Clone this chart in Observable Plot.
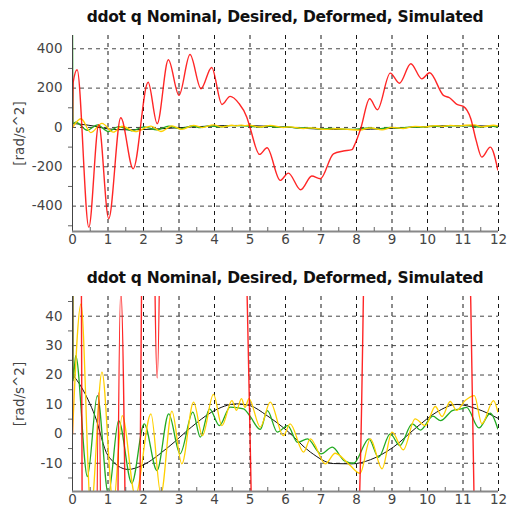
<!DOCTYPE html>
<html><head><meta charset="utf-8">
<script src="https://cdn.jsdelivr.net/npm/d3@7"></script>
<script src="https://cdn.jsdelivr.net/npm/@observablehq/plot@0.6"></script>
<style>
body{margin:0;background:#fff;}
#wrap{position:relative;width:508px;height:516px;font-family:"DejaVu Sans",sans-serif;background:#fff;overflow:hidden;}
.ttl{position:absolute;left:72px;width:426px;text-align:center;font-size:15.5px;font-weight:bold;line-height:15px;color:#111;white-space:nowrap;}
.panel{position:absolute;left:0;}
</style></head><body>
<div id="wrap">
  <div class="panel" id="p1" style="top:0px"></div>
  <div class="panel" id="p2" style="top:258px"></div>
  <div class="ttl" id="t1" style="top:10px"></div>
  <div class="ttl" id="t2" style="top:271px"></div>
</div>
<script>
const titleText = "ddot q Nominal, Desired, Deformed, Simulated";
const yLabel = "[rad/s^2]";

const xMajor = [0,1,2,3,4,5,6,7,8,9,10,11,12];
const xMinor = [0.5,1.5,2.5,3.5,4.5,5.5,6.5,7.5,8.5,9.5,10.5,11.5];
const topMajor = [-400,-200,0,200,400];
const topMinor = [-500,-300,-100,100,300];
const botMajor = [-10,0,10,20,30,40];
const botMinor = [-15,-5,5,15,25,35,45];

// Simulated (red)
const simT = [0,0.02,0.13,0.46,0.74,1.02,1.36,1.71,2.13,2.385,2.70,3.00,3.31,3.62,3.92,4.21,4.44,4.68,4.91,5.0,5.27,5.48,5.85,6.08,6.43,6.74,6.98,7.35,7.63,7.87,7.96,8.12,8.37,8.59,8.95,9.21,9.53,9.84,10.06,10.45,10.62,10.83,11.01,11.22,11.37,11.53,11.77,11.98];
const simV = [0,230,293,-507,14,-464,49,-210,230,19,344,163,371,197,305,117,158,124,52,0,-137,-103,-269,-232,-317,-247,-261,-134,-120,-113,-83,-5,146,90,276,225,324,247,278,163,151,117,107,44,-66,-151,-100,-215];

// Nominal (black)
const nomT = [0,0.25,0.63,1.0,1.57,1.95,2.7,3.35,3.92,4.63,5.0,5.48,6.04,6.7,7.35,7.87,8.39,9.04,9.7,10.26,10.83,11.39,12];
const nomV = [20.2,15.9,6.2,-7.4,-12.1,-10.8,-4.5,2.3,7.4,10.2,9.6,6.2,1.1,-6.2,-10.1,-10.2,-8.8,-4.5,2.3,7.4,10.0,8.5,5.2];

// Desired (green)
const desT = [0,0.015,0.09,0.42,0.70,1.01,1.30,1.67,2.02,2.38,2.71,3.03,3.39,3.60,3.86,4.14,4.44,4.82,5.0,5.29,5.49,5.77,6.06,6.34,6.62,7.0,7.32,7.65,7.92,8.35,8.62,8.95,9.22,9.57,9.8,10.15,10.37,10.7,10.95,11.1,11.45,11.77,11.98];
const desV = [600,18,26.6,-14.5,13,-20.5,4.5,-16.8,3.4,-12.5,6.8,-6.8,7.4,-1.1,8.5,2.8,9.1,8.5,6,1.5,7.9,0.6,2.8,-2.9,-1.7,-6.8,-4.5,-9.1,-10,-1.7,-8,0,-4,3.4,1.3,6,4.5,7.9,8.5,9,2,7,1.7];

// Deformed (yellow)
const defT = [0,0.24,0.52,0.83,1.15,1.40,1.77,2.21,2.49,2.80,3.08,3.41,3.66,3.97,4.21,4.49,4.62,4.76,4.86,4.97,5.29,5.57,5.94,6.13,6.51,6.70,7.12,7.40,7.80,8.10,8.39,8.72,9.0,9.32,9.65,9.94,10.22,10.41,10.64,10.82,11.06,11.32,11.53,11.86,11.98];
const defV = [0,44.2,-26,21,-24,6.2,-21,6.8,-20.5,7.7,-10.2,10.8,-0.6,13.4,2.8,11.3,8,12,9,12,2.3,10.8,-0.6,3.4,-6.2,-1.7,-10.2,-6.6,-10.5,-13.4,-1.7,-11.9,0.6,-5.4,5.1,2.8,9.3,5.9,11,8,11.3,13,3.4,11.3,7.5];

const toRows = (T, V) => T.map((t, i) => ({t, v: V[i]}));
const sim = toRows(simT, simV), nom = toRows(nomT, nomV), des = toRows(desT, desV), dfm = toRows(defT, defV);

function panel(yDomain, yMajor, yMinor, marginTop, marginBottom) {
  const L = (data, stroke, w, op=1) => Plot.line(data, {x: "t", y: "v", stroke, strokeWidth: w, strokeOpacity: op, curve: "monotone-x", clip: true});
  return Plot.plot({
    width: 508, height: 258,
    marginLeft: 72, marginRight: 10, marginTop, marginBottom,
    style: {fontFamily: "'DejaVu Sans', sans-serif", fontSize: "13.5px", color: "#444", background: "transparent", overflow: "visible"},
    x: {domain: [0, 12], label: null},
    y: {domain: yDomain, label: null},
    marks: [
      Plot.gridX(xMajor, {stroke: "#000", strokeOpacity: 0.9, strokeDasharray: "4,4"}),
      Plot.gridY(yMajor, {stroke: "#333", strokeOpacity: 0.9, strokeDasharray: "4,4"}),
      L(nom, "#111", 1),
      L(des, "#22aa22", 1.3),
      L(dfm, "#ffd000", 1.3),
      L(sim, "#ff0000", 1.4, 0.85),
      Plot.ruleX([0], {stroke: "#444", strokeWidth: 1}),
      Plot.ruleY([yDomain[0]], {stroke: "#888", strokeWidth: 2}),
      Plot.axisX(xMinor, {tickSize: 4, dy: -4, text: null, stroke: "#666", label: null}),
      Plot.axisX(xMajor, {tickSize: 0, tickPadding: 3, tickFormat: d => String(d), label: null}),
      Plot.axisY(yMinor, {tickSize: 4, text: null, stroke: "#666", label: null}),
      Plot.axisY(yMajor, {tickSize: 0, tickPadding: 10, tickFormat: d => String(d), label: yLabel, labelAnchor: "center", labelOffset: 58, labelArrow: "none"})
    ]
  });
}

// fit the title to the reference width (about 397px) via letter spacing
const targetW = 397;
for (const id of ["t1", "t2"]) document.getElementById(id).textContent = titleText;
const probe = document.createElement("span");
probe.style.cssText = "position:absolute;visibility:hidden;white-space:nowrap;font:bold 15.5px 'DejaVu Sans',sans-serif;";
probe.textContent = titleText;
document.body.appendChild(probe);
const w = probe.getBoundingClientRect().width;
probe.remove();
const ls = Math.max(-1, Math.min(2, (targetW - w) / (titleText.length - 1)));
for (const id of ["t1", "t2"]) document.getElementById(id).style.letterSpacing = ls.toFixed(3) + "px";

document.getElementById("p1").appendChild(panel([-529, 467.5], topMajor, topMinor, 35, 27));
document.getElementById("p2").appendChild(panel([-19.6, 46.7], botMajor, botMinor, 38, 25));
</script>
</body></html>
